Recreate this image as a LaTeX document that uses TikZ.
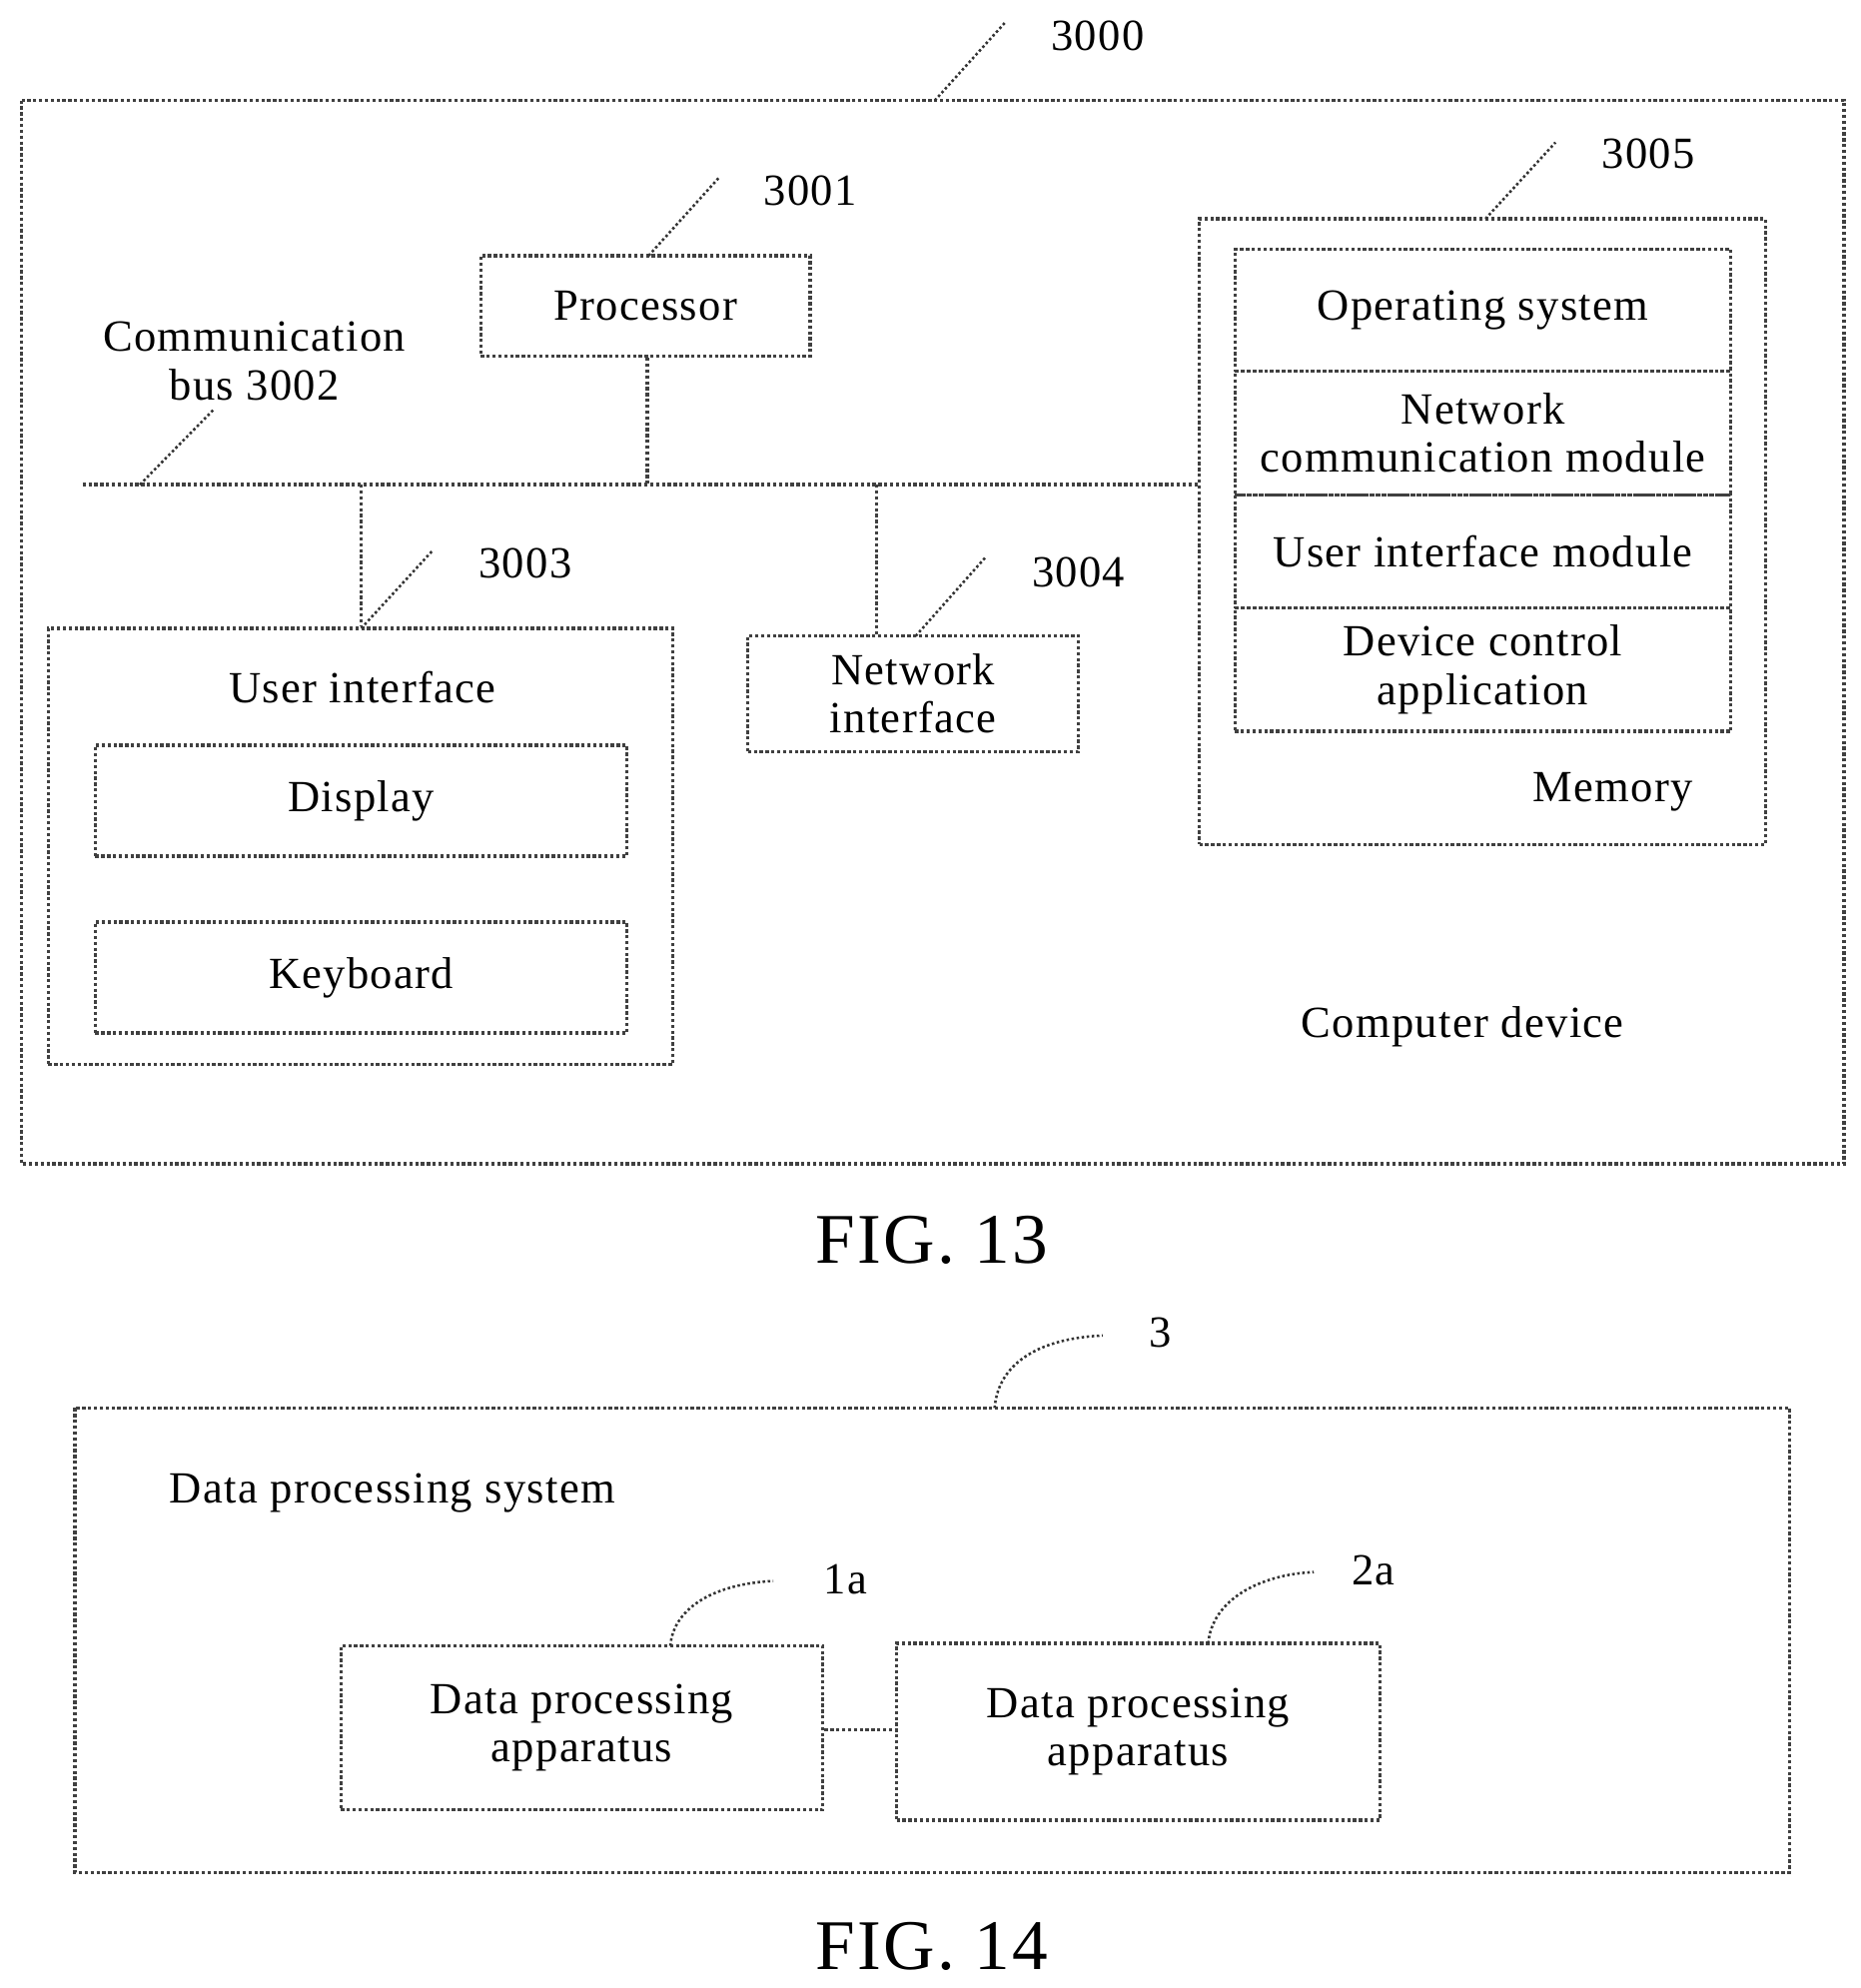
\documentclass[tikz,border=0pt]{standalone}
\usepackage{fontspec}
\setmainfont{Liberation Serif}[LetterSpace=3]
\begin{document}
\begin{tikzpicture}[x=0.5pt,y=-0.5pt,
 bx/.style={draw=black!75,densely dotted,line width=1.3pt},
 ln/.style={draw=black!75,densely dotted,line width=1.3pt},
 ld/.style={draw=black!80,line width=1pt,densely dotted},
 t/.style={font=\fontsize{17.5}{19}\selectfont,align=center,inner sep=0pt},
 fig/.style={font=\fontsize{28}{30}\selectfont,inner sep=0pt}]
\useasboundingbox (0,0) rectangle (1463,1563);
% FIG 13
\draw[bx] (17,79) rectangle (1450,915);
\coordinate (c0) at (735,79); \coordinate (c0e) at (790,18);
\draw[ld] (c0)--(c0e); \node[t] (l0) at (863,28) {3000};
\node[bx,minimum width=129.5pt,minimum height=39.5pt,t] (proc) at (507.5,240.5) {Processor};
\coordinate (c1) at (510,201); \coordinate (c1e) at (565,140);
\draw[ld] (c1)--(c1e); \node[t] (l1) at (637,150) {3001};
\node[t] (bus) at (200,284) {Communication\\bus 3002};
\coordinate (b0) at (65,381); \coordinate (b1) at (943,381);
\draw[ln] (b0)--(b1);
\coordinate (c2) at (110,381); \coordinate (c2e) at (168,322); \draw[ld] (c2)--(c2e);
\coordinate (bp) at (509,381); \draw[ln] (proc.south -| bp)--(bp);
\node[bx,minimum width=245.5pt,minimum height=171.5pt] (ui) at (283.5,665.5) {};
\coordinate (bu) at (284,381); \draw[ln] (bu)--(ui.north -| bu);
\coordinate (c3) at (284,494); \coordinate (c3e) at (340,433); \draw[ld] (c3)--(c3e);
\node[t] (l3) at (413,443) {3003};
\node[t] (uit) at (285,540) {User interface};
\node[bx,t,minimum width=209pt,minimum height=43.5pt] (disp) at (284,629.5) {Display};
\node[bx,t,minimum width=209pt,minimum height=43.5pt] (kb) at (284,768.5) {Keyboard};
\node[bx,t,minimum width=130pt,minimum height=45.5pt] (ni) at (718,545.5) {Network\\interface};
\coordinate (bn) at (689,381); \draw[ln] (bn)--(ni.north -| bn);
\coordinate (c4) at (720,500); \coordinate (c4e) at (775,438); \draw[ld] (c4)--(c4e);
\node[t] (l4) at (848,450) {3004};
\node[bx,minimum width=222.5pt,minimum height=246pt] (mem) at (1165.5,418) {};
\coordinate (c5) at (1168,172); \coordinate (c5e) at (1223,112); \draw[ld] (c5)--(c5e);
\node[t] (l5) at (1296,121) {3005};
\node[bx,t,minimum width=195pt,minimum height=48pt] (os) at (1166,244) {Operating system};
\node[bx,t,minimum width=195pt,minimum height=48.5pt] (ncm) at (1166,340.5) {Network\\communication module};
\node[bx,t,minimum width=195pt,minimum height=44.5pt] (uim) at (1166,433.5) {User interface module};
\node[bx,t,minimum width=195pt,minimum height=48.5pt] (dca) at (1166,526.5) {Device control\\application};
\node[t] (memt) at (1268,623) {Memory};
\node[t] (cd) at (1150,807) {Computer device};
\node[fig] (f13) at (733,975) {FIG. 13};
% FIG 14
\draw[bx] (59,1107) rectangle (1407,1472);
\coordinate (d0) at (782,1107); \coordinate (d0e) at (867,1050);
\draw[ld] (d0) .. controls (785,1070) and (820,1052) .. (d0e);
\node[t] (m0) at (912,1048) {3};
\node[t,anchor=west] (dps) at (133,1174) {Data processing system};
\node[bx,t,minimum width=189.5pt,minimum height=64.5pt] (a1) at (457.5,1358.5) {Data processing\\apparatus};
\node[bx,t,minimum width=190pt,minimum height=69.5pt] (a2) at (895,1361.5) {Data processing\\apparatus};
\coordinate (d1) at (527,1294); \coordinate (d1e) at (608,1243);
\draw[ld] (d1) .. controls (530,1262) and (565,1245) .. (d1e);
\node[t] (m1) at (665,1242) {1a};
\coordinate (d2) at (950,1292); \coordinate (d2e) at (1033,1236);
\draw[ld] (d2) .. controls (953,1258) and (990,1238) .. (d2e);
\node[t] (m2) at (1080,1235) {2a};
\coordinate (k) at (0,1360);
\draw[ln] (a1.east |- k)--(a2.west |- k);
\node[fig] (f14) at (733,1530) {FIG. 14};
\end{tikzpicture}
\end{document}
